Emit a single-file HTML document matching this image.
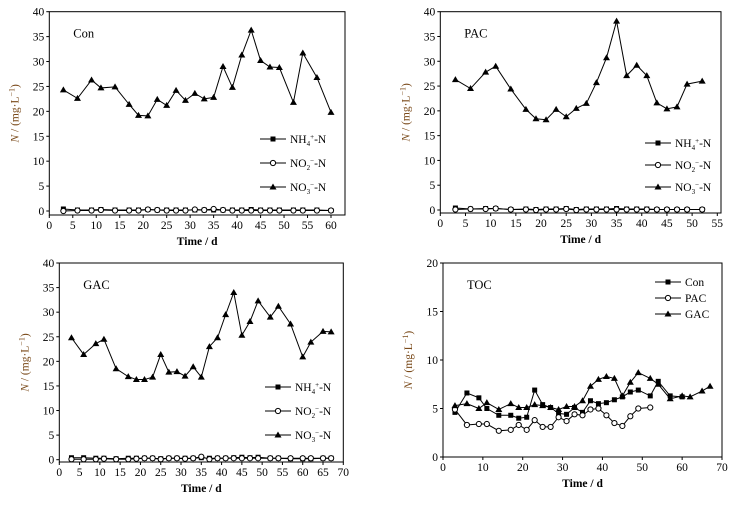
<!DOCTYPE html>
<html><head><meta charset="utf-8"><style>
body{margin:0;background:#fff;}
svg{display:block;font-family:"Liberation Serif",serif;}
</style></head><body>
<svg id="c" width="738" height="506" viewBox="0 0 738 506"></svg>
<script>
const conX=[3,6,9,11,14,17,19,21,23,25,27,29,31,33,35,37,39,41,43,45,47,49,52,54,57,60];
const conNO3=[24.3,22.6,26.3,24.7,24.9,21.4,19.2,19.1,22.4,21.2,24.2,22.2,23.6,22.5,22.8,29,24.8,31.3,36.3,30.2,28.9,28.8,21.8,31.7,26.8,19.8];
const conNH4=[0.4,0.2,0.2,0.3,0.2,0.2,0.2,0.3,0.2,0.2,0.2,0.2,0.2,0.2,0.2,0.2,0.2,0.2,0.3,0.2,0.2,0.2,0.2,0.2,0.2,0.1];
const conNO2=[0,0.1,0.1,0.2,0.1,0.1,0.1,0.3,0.2,0.1,0.1,0.1,0.3,0.2,0.4,0.2,0.1,0.1,0.1,0.1,0.1,0.1,0.1,0.1,0.1,0.1];
const pacX=[3,6,9,11,14,17,19,21,23,25,27,29,31,33,35,37,39,41,43,45,47,49,52];
const pacNO3=[26.3,24.5,27.8,29,24.4,20.3,18.4,18.2,20.3,18.8,20.5,21.5,25.7,30.7,38.1,27.1,29.2,27.1,21.6,20.4,20.8,25.4,26];
const pacNH4=[0.4,0.2,0.3,0.3,0.1,0.2,0.1,0.2,0.2,0.3,0.1,0.2,0.2,0.2,0.3,0.2,0.2,0.2,0.1,0.1,0.1,0.1,0.1];
const pacNO2=[0.1,0.2,0.2,0.3,0.1,0.1,0,0.1,0.1,0.2,0,0.1,0.1,0.1,0.1,0.1,0.1,0.1,0.1,0.1,0.1,0.1,0.1];
const gacX=[3,6,9,11,14,17,19,21,23,25,27,29,31,33,35,37,39,41,43,45,47,49,52,54,57,60,62,65,67];
const gacNO3=[24.8,21.4,23.6,24.5,18.5,16.9,16.3,16.3,16.8,21.4,17.8,17.9,17,18.9,16.8,23,24.8,29.5,34,25.3,28.1,32.3,29,31.2,27.6,20.9,23.9,26.1,26];
const gacNH4=[0.4,0.4,0.3,0.3,0.2,0.3,0.3,0.3,0.3,0.2,0.3,0.3,0.3,0.3,0.4,0.3,0.3,0.3,0.4,0.5,0.4,0.5,0.3,0.3,0.2,0.2,0.2,0.3,0.3];
const gacNO2=[0.1,0.1,0.1,0.2,0.1,0.1,0.2,0.3,0.3,0.1,0.3,0.3,0.2,0.3,0.6,0.1,0.3,0.3,0.3,0.3,0.3,0.3,0.3,0.3,0.3,0.3,0.3,0.3,0.3];
const tocConX=[3,6,9,11,14,17,19,21,23,25,27,29,31,33,35,37,39,41,43,45,47,49,52,54,57,60];
const tocCon=[4.6,6.6,6.1,5,4.3,4.3,4,4.1,6.9,5.4,5.1,4.5,4.4,5.1,4.6,5.8,5.5,5.6,5.9,6.2,6.7,6.9,6.3,7.8,6.3,6.2];
const tocPacX=[3,6,9,11,14,17,19,21,23,25,27,29,31,33,35,37,39,41,43,45,47,49,52];
const tocPac=[4.9,3.3,3.4,3.4,2.7,2.8,3.3,2.8,3.8,3.1,3.1,4.1,3.7,4.4,4.3,4.9,5,4.3,3.5,3.2,4.2,5,5.1];
const tocGacX=[3,6,9,11,14,17,19,21,23,25,27,29,31,33,35,37,39,41,43,45,47,49,52,54,57,60,62,65,67];
const tocGac=[5.3,5.5,5,5.6,4.9,5.5,5.1,5.1,5.4,5.3,5.1,4.9,5.2,5.2,5.8,7.3,8,8.3,8.1,6.3,7.7,8.7,8.1,7.5,6,6.3,6.2,6.8,7.3];
const yTicksN=[0,5,10,15,20,25,30,35,40];
const yTicksT=[0,5,10,15,20];

const NS="http://www.w3.org/2000/svg";
const svg=document.getElementById('c');
function el(t,a,p){const e=document.createElementNS(NS,t);for(const k in a)e.setAttribute(k,a[k]);(p||svg).appendChild(e);return e;}
function marker(g,type,x,y){
  let m;
  if(type==='sq')m=el('rect',{x:x-2.5,y:y-2.5,width:5,height:5,fill:'#000'},g);
  else if(type==='ci')m=el('circle',{cx:x,cy:y,r:2.6,fill:'#fff',stroke:'#000','stroke-width':1},g);
  else m=el('polygon',{points:`${x},${y-3.5} ${x+3.5},${y+2.5} ${x-3.5},${y+2.5}`,fill:'#000'},g);
  
  
}
function panel(cfg){
  const g=el('g',{});
  
  
  const sx=v=>cfg.x0+(v-0)*(cfg.x1-cfg.x0)/cfg.xmax;
  const sy=v=>cfg.y0-v*(cfg.y0-cfg.y1)/cfg.ymax;
  const frame=el('rect',{x:cfg.x0,y:cfg.top,width:cfg.right-cfg.x0,height:cfg.bot-cfg.top,fill:'none',stroke:'#000','stroke-width':1},g);
  
  
  for(let v=0;v<=cfg.xmax;v+=cfg.xstep){
    const x=sx(v);
    el('line',{x1:x,y1:cfg.bot,x2:x,y2:cfg.bot+3,stroke:'#000'},g);
    const t=el('text',{x:x,y:cfg.bot+14,'font-size':11.5,'text-anchor':'middle'},g);t.textContent=v;
    
    
  }
  cfg.yt.forEach(v=>{
    const y=sy(v);
    el('line',{x1:cfg.x0-3,y1:y,x2:cfg.x0,y2:y,stroke:'#000'},g);
    const t=el('text',{x:cfg.x0-5,y:y+4,'font-size':11.5,'text-anchor':'end'},g);t.textContent=v;
    
    
  });
  const xt=el('text',{x:(cfg.x0+cfg.right)/2,y:cfg.bot+30,'font-size':11.5,'font-weight':'bold','text-anchor':'middle'},g);
  xt.textContent='Time / d';
  
  
  const yc=(cfg.top+cfg.bot)/2, yx=cfg.x0-31;
  const yl=el('text',{x:yx,y:yc,'font-size':11.5,fill:'#7a4a1a','text-anchor':'middle',transform:`rotate(-90 ${yx} ${yc})`},g);
  yl.innerHTML='<tspan font-style="italic">N</tspan> / (mg·L<tspan dy="-4" font-size="8">−1</tspan><tspan dy="4">)</tspan>';
  
  
  const lb=el('text',{x:cfg.x0+24,y:cfg.top+26,'font-size':12.5},g);
  lb.textContent=cfg.label;
  
  
  cfg.series.forEach(s=>{
    const pts=s.xs.map((v,i)=>sx(v)+','+sy(s.ys[i])).join(' ');
    const pl=el('polyline',{points:pts,fill:'none',stroke:'#000','stroke-width':1},g);
    
    
    s.xs.forEach((v,i)=>marker(g,s.m,sx(v),sy(s.ys[i])));
  });
  cfg.series.forEach((s,i)=>{
    const ly=cfg.ly+i*cfg.lgap, lx=cfg.lx;
    el('line',{x1:lx,y1:ly,x2:lx+26,y2:ly,stroke:'#000'},g);
    marker(g,s.m,lx+13,ly);
    const t=el('text',{x:lx+30,y:ly+4,'font-size':11.5},g);
    t.innerHTML=s.lab;
    
    
  });
}
const L1='NH<tspan dy="3" font-size="7">4</tspan><tspan dy="-7" font-size="7">+</tspan><tspan dy="4">-N</tspan>';
const L2='NO<tspan dy="3" font-size="7">2</tspan><tspan dy="-7" font-size="7">−</tspan><tspan dy="4">-N</tspan>';
const L3='NO<tspan dy="3" font-size="7">3</tspan><tspan dy="-7" font-size="7">−</tspan><tspan dy="4">-N</tspan>';
panel({name:'con-panel',label:'Con',x0:49.3,x1:331,xmax:60,xstep:5,right:345,top:11.7,bot:215,y0:211,y1:11.7,ymax:40,yt:yTicksN,lx:260,ly:139,lgap:24,
 series:[{xs:conX,ys:conNH4,m:'sq',lab:L1},{xs:conX,ys:conNO2,m:'ci',lab:L2},{xs:conX,ys:conNO3,m:'tr',lab:L3}]});
panel({name:'pac-panel',label:'PAC',x0:440.3,x1:717.3,xmax:55,xstep:5,right:721,top:11.7,bot:213,y0:210,y1:11.7,ymax:40,yt:yTicksN,lx:645,ly:143,lgap:22,
 series:[{xs:pacX,ys:pacNH4,m:'sq',lab:L1},{xs:pacX,ys:pacNO2,m:'ci',lab:L2},{xs:pacX,ys:pacNO3,m:'tr',lab:L3}]});
panel({name:'gac-panel',label:'GAC',x0:59.3,x1:343.3,xmax:70,xstep:5,right:343.3,top:263,bot:462,y0:459.7,y1:263,ymax:40,yt:yTicksN,lx:265,ly:387,lgap:24,
 series:[{xs:gacX,ys:gacNH4,m:'sq',lab:L1},{xs:gacX,ys:gacNO2,m:'ci',lab:L2},{xs:gacX,ys:gacNO3,m:'tr',lab:L3}]});
panel({name:'toc-panel',label:'TOC',x0:443,x1:722,xmax:70,xstep:10,right:722,top:263,bot:457,y0:457,y1:263,ymax:20,yt:yTicksT,lx:655,ly:282,lgap:16,
 series:[{xs:tocConX,ys:tocCon,m:'sq',lab:'Con'},{xs:tocPacX,ys:tocPac,m:'ci',lab:'PAC'},{xs:tocGacX,ys:tocGac,m:'tr',lab:'GAC'}]});
</script>
</body></html>
